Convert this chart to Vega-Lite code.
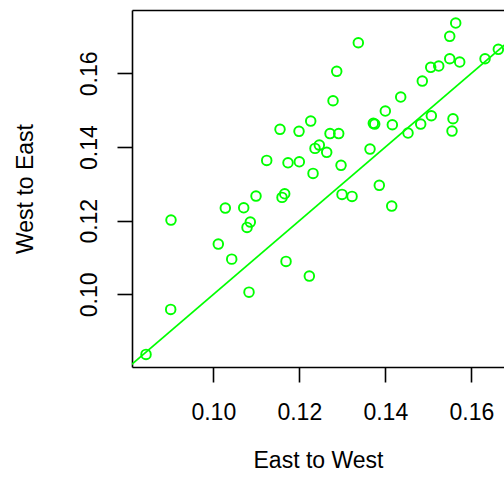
{
  "$schema": "https://vega.github.io/schema/vega-lite/v6.json",
  "width": 372,
  "height": 357,
  "autosize": {"type": "none"},
  "padding": {"left": 132, "top": 10, "right": 0, "bottom": 121},
  "background": "white",
  "config": {
    "view": {"stroke": null},
    "font": "Liberation Sans",
    "axis": {
      "domainColor": "black", "domainWidth": 1.6, "tickColor": "black", "tickWidth": 1.6,
      "grid": false, "labelFont": "Liberation Sans", "titleFont": "Liberation Sans",
      "labelFontSize": 23, "titleFontSize": 23, "labelColor": "black", "titleColor": "black",
      "titleFontWeight": "normal", "labelFlush": false, "labelOverlap": false
    }
  },
  "resolve": {"axis": {"x": "independent"}},
  "layer": [
    {
      "data": {"values": [
        {"ew": 0.15637, "we": 0.17366}, {"ew": 0.15498, "we": 0.17005}, {"ew": 0.13372, "we": 0.16831},
        {"ew": 0.16628, "we": 0.16652}, {"ew": 0.16319, "we": 0.16397}, {"ew": 0.15498, "we": 0.16397},
        {"ew": 0.15730, "we": 0.16307}, {"ew": 0.15242, "we": 0.16199}, {"ew": 0.15056, "we": 0.16163},
        {"ew": 0.12870, "we": 0.16055}, {"ew": 0.14860, "we": 0.15791}, {"ew": 0.14358, "we": 0.15357},
        {"ew": 0.12784, "we": 0.15257}, {"ew": 0.14000, "we": 0.14977}, {"ew": 0.15070, "we": 0.14849},
        {"ew": 0.15574, "we": 0.14768}, {"ew": 0.12265, "we": 0.14705}, {"ew": 0.13721, "we": 0.14643},
        {"ew": 0.13753, "we": 0.14624}, {"ew": 0.14823, "we": 0.14624}, {"ew": 0.14163, "we": 0.14605},
        {"ew": 0.11551, "we": 0.14480}, {"ew": 0.11993, "we": 0.14426}, {"ew": 0.15551, "we": 0.14434},
        {"ew": 0.14528, "we": 0.14380}, {"ew": 0.12714, "we": 0.14366}, {"ew": 0.12916, "we": 0.14366},
        {"ew": 0.12465, "we": 0.14054}, {"ew": 0.12365, "we": 0.13964}, {"ew": 0.12637, "we": 0.13856},
        {"ew": 0.13644, "we": 0.13945}, {"ew": 0.11242, "we": 0.13638}, {"ew": 0.11737, "we": 0.13573},
        {"ew": 0.12000, "we": 0.13600}, {"ew": 0.12970, "we": 0.13503}, {"ew": 0.12319, "we": 0.13285},
        {"ew": 0.13860, "we": 0.12960}, {"ew": 0.10993, "we": 0.12669}, {"ew": 0.11660, "we": 0.12731},
        {"ew": 0.11598, "we": 0.12634}, {"ew": 0.12993, "we": 0.12715}, {"ew": 0.13226, "we": 0.12661},
        {"ew": 0.14149, "we": 0.12398}, {"ew": 0.10279, "we": 0.12343}, {"ew": 0.10707, "we": 0.12351},
        {"ew": 0.09016, "we": 0.12017}, {"ew": 0.10860, "we": 0.11963}, {"ew": 0.10784, "we": 0.11819},
        {"ew": 0.10116, "we": 0.11366}, {"ew": 0.10428, "we": 0.10958}, {"ew": 0.11691, "we": 0.10896},
        {"ew": 0.12233, "we": 0.10497}, {"ew": 0.10830, "we": 0.10062}, {"ew": 0.09009, "we": 0.09593},
        {"ew": 0.08435, "we": 0.08371}
      ]},
      "mark": {"type": "point", "shape": "circle", "filled": false, "stroke": "#00ff00", "strokeWidth": 1.9, "size": 92, "opacity": 1, "clip": true},
      "encoding": {
        "x": {"field": "ew", "type": "quantitative",
          "scale": {"domain": [0.08109, 0.1676], "nice": false, "zero": false},
          "axis": {"orient": "bottom", "values": [0.10, 0.12, 0.14, 0.16], "format": ".2f", "tickSize": 15,
            "labelPadding": 19, "title": "East to West", "titleY": 93, "titleBaseline": "middle"}},
        "y": {"field": "we", "type": "quantitative",
          "scale": {"domain": [0.0803, 0.1772], "nice": false, "zero": false},
          "axis": {"values": [0.10, 0.12, 0.14, 0.16], "format": ".2f", "tickSize": 15, "labelAngle": -90,
            "labelAlign": "center", "labelBaseline": "bottom", "labelPadding": 16,
            "title": "West to East", "titleX": -107, "titleBaseline": "middle", "titleAngle": -90}}
      }
    },
    {
      "data": {"values": [{"ew": 0.07, "we": 0.07}, {"ew": 0.19, "we": 0.19}]},
      "mark": {"type": "line", "stroke": "#00ff00", "strokeWidth": 1.6, "clip": true},
      "encoding": {
        "x": {"field": "ew", "type": "quantitative",
          "axis": {"orient": "top", "labels": false, "ticks": false, "domain": true, "title": null}},
        "y": {"field": "we", "type": "quantitative"}
      }
    }
  ]
}
